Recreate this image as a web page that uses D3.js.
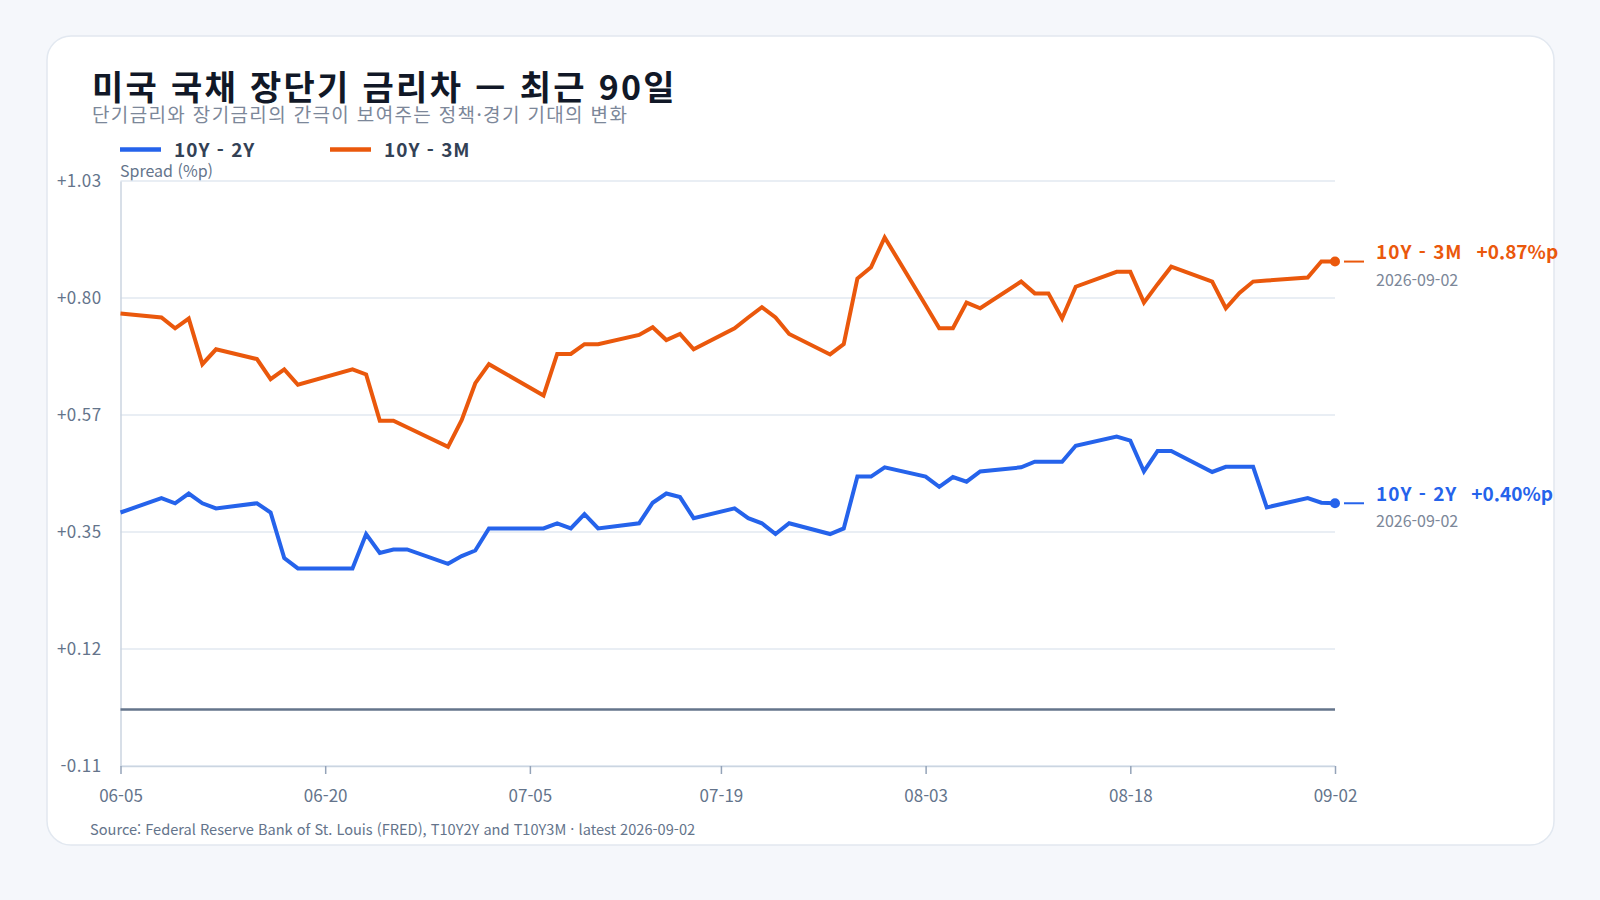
<!DOCTYPE html>
<html lang="ko">
<head>
<meta charset="UTF-8">
<title>미국 국채 장단기 금리차</title>
<script src="https://d3js.org/d3.v7.min.js"></script>
<style>
    body, html {
        margin: 0;
        background: #f5f7fb;
        overflow: hidden;
    }
    svg text {
        font-family: "Noto Sans CJK KR", "Noto Sans", sans-serif;
    }
</style>
</head>
<body>
<svg id="chart" width="1600" height="900"></svg>
<script>
    // 영업일 (FRED 일별)
    var dates = [
        "2026-06-05","2026-06-08","2026-06-09","2026-06-10","2026-06-11","2026-06-12","2026-06-15","2026-06-16","2026-06-17","2026-06-18",
        "2026-06-22","2026-06-23","2026-06-24","2026-06-25","2026-06-26","2026-06-29","2026-06-30",
        "2026-07-01","2026-07-02","2026-07-06","2026-07-07","2026-07-08","2026-07-09","2026-07-10","2026-07-13","2026-07-14","2026-07-15",
        "2026-07-16","2026-07-17","2026-07-20","2026-07-21","2026-07-22","2026-07-23","2026-07-24","2026-07-27","2026-07-28","2026-07-29",
        "2026-07-30","2026-07-31",
        "2026-08-03","2026-08-04","2026-08-05","2026-08-06","2026-08-07","2026-08-10","2026-08-11","2026-08-12","2026-08-13","2026-08-14",
        "2026-08-17","2026-08-18","2026-08-19","2026-08-20","2026-08-21","2026-08-24","2026-08-25","2026-08-26","2026-08-27","2026-08-28",
        "2026-08-31","2026-09-01","2026-09-02"
    ];

    // 10Y - 2Y (%p)
    var spread10y2y = [
        0.384, 0.412, 0.402, 0.421, 0.402, 0.392, 0.402, 0.384, 0.295, 0.275,
        0.275, 0.342, 0.305, 0.312, 0.312, 0.284, 0.299,
        0.310, 0.353, 0.353, 0.363, 0.353, 0.381, 0.353, 0.363, 0.403, 0.421,
        0.414, 0.373, 0.392, 0.373, 0.363, 0.342, 0.363, 0.342, 0.353, 0.454,
        0.454, 0.472,
        0.454, 0.434, 0.453, 0.444, 0.464, 0.472, 0.483, 0.483, 0.483, 0.514,
        0.532, 0.524, 0.464, 0.504, 0.504, 0.463, 0.473, 0.473, 0.473, 0.394,
        0.412, 0.403, 0.402
    ];

    // 10Y - 3M (%p)
    var spread10y3m = [
        0.772, 0.764, 0.743, 0.762, 0.673, 0.702, 0.683, 0.644, 0.663, 0.633,
        0.663, 0.653, 0.563, 0.563, 0.550, 0.512, 0.564,
        0.636, 0.673, 0.612, 0.693, 0.693, 0.712, 0.712, 0.730, 0.745, 0.720,
        0.732, 0.702, 0.743, 0.764, 0.784, 0.764, 0.732, 0.692, 0.712, 0.840,
        0.862, 0.920,
        0.788, 0.743, 0.743, 0.793, 0.782, 0.834, 0.811, 0.811, 0.762, 0.824,
        0.853, 0.853, 0.793, 0.829, 0.863, 0.834, 0.782, 0.812, 0.834, 0.836,
        0.842, 0.873, 0.873
    ];

    var seriesNames = ["10Y - 2Y", "10Y - 3M"];
    var seriesColors = ["#2563eb", "#ea580c"];

    // 축 눈금
    var xTickDates = ["2026-06-05", "2026-06-20", "2026-07-05", "2026-07-19", "2026-08-03", "2026-08-18", "2026-09-02"];
    var yTicks = [-0.11, 0.118, 0.346, 0.574, 0.802, 1.03];

    var parse = d3.utcParse("%Y-%m-%d");
    var fmtDay = d3.utcFormat("%m-%d");
    var fmtSigned = function (d) { return (d >= 0 ? "+" : "") + d.toFixed(2); };

    var series = [spread10y2y, spread10y3m].map(function (vals, i) {
        return {
            name: seriesNames[i],
            color: seriesColors[i],
            values: vals.map(function (v, j) { return { date: parse(dates[j]), value: v }; })
        };
    });

    var svg = d3.select("#chart");

    // 카드
    svg.append("rect")
        .attr("x", 47).attr("y", 36)
        .attr("width", 1507).attr("height", 809)
        .attr("rx", 24)
        .attr("fill", "#ffffff")
        .attr("stroke", "#e2e8f0")
        .attr("stroke-width", 1.5);

    var plot = { left: 120.5, right: 1335, top: 181, bottom: 766 };

    var x = d3.scaleUtc()
        .domain([parse(dates[0]), parse(dates[dates.length - 1])])
        .range([plot.left, plot.right]);

    var y = d3.scaleLinear()
        .domain([yTicks[0], yTicks[yTicks.length - 1]])
        .range([plot.bottom, plot.top]);

    // 제목
    svg.append("text")
        .attr("x", 92).attr("y", 100)
        .attr("font-size", 34).attr("font-weight", 700)
        .attr("letter-spacing", 2.3)
        .attr("fill", "#111827")
        .text("미국 국채 장단기 금리차 — 최근 90일");

    svg.append("text")
        .attr("x", 92).attr("y", 122)
        .attr("font-size", 19)
        .attr("letter-spacing", 1.35)
        .attr("fill", "#7c8799")
        .text("단기금리와 장기금리의 간극이 보여주는 정책·경기 기대의 변화");

    // 범례
    var legend = svg.append("g");
    var legendX = [120, 330];
    series.forEach(function (s, i) {
        legend.append("line")
            .attr("x1", legendX[i]).attr("x2", legendX[i] + 41)
            .attr("y1", 149.5).attr("y2", 149.5)
            .attr("stroke", s.color).attr("stroke-width", 4.5);
        legend.append("text")
            .attr("x", legendX[i] + 54).attr("y", 157)
            .attr("font-size", 19).attr("font-weight", 700)
            .attr("letter-spacing", 1)
            .attr("fill", "#334155")
            .text(s.name);
    });

    svg.append("text")
        .attr("x", 120).attr("y", 177)
        .attr("font-size", 16)
        .attr("fill", "#64748b")
        .text("Spread (%p)");

    // 그리드
    svg.append("g")
        .selectAll("line")
        .data(yTicks)
        .join("line")
        .attr("x1", plot.left).attr("x2", plot.right)
        .attr("y1", function (d) { return y(d); })
        .attr("y2", function (d) { return y(d); })
        .attr("stroke", "#e2e8f0")
        .attr("stroke-width", 1.5);

    // Y축
    var yAxis = svg.append("g")
        .attr("transform", "translate(" + plot.left + ",0)")
        .call(d3.axisLeft(y).tickValues(yTicks).tickFormat(fmtSigned).tickSize(0).tickPadding(19));
    yAxis.select(".domain").attr("stroke", "#cbd5e1").attr("stroke-width", 1.5);
    yAxis.selectAll("text")
        .attr("font-size", 17)
        .attr("letter-spacing", 0.4)
        .attr("fill", "#64748b");

    // X축
    var xAxis = svg.append("g")
        .attr("transform", "translate(0," + plot.bottom + ")")
        .call(d3.axisBottom(x).tickValues(xTickDates.map(parse)).tickFormat(fmtDay).tickSize(8).tickSizeOuter(0).tickPadding(16));
    xAxis.select(".domain").attr("stroke", "#cbd5e1").attr("stroke-width", 1.5);
    xAxis.selectAll(".tick line").attr("stroke", "#94a3b8").attr("stroke-width", 1.5);
    xAxis.selectAll("text")
        .attr("font-size", 17)
        .attr("fill", "#64748b");

    // 0 기준선
    svg.append("line")
        .attr("x1", plot.left).attr("x2", plot.right)
        .attr("y1", y(0)).attr("y2", y(0))
        .attr("stroke", "#64748b")
        .attr("stroke-width", 2.6);

    // 선
    var line = d3.line()
        .x(function (d) { return x(d.date); })
        .y(function (d) { return y(d.value); });

    svg.append("g")
        .selectAll("path")
        .data(series)
        .join("path")
        .attr("fill", "none")
        .attr("stroke", function (d) { return d.color; })
        .attr("stroke-width", 4)
        .attr("d", function (d) { return line(d.values); });

    // 끝점 라벨
    series.forEach(function (s) {
        var last = s.values[s.values.length - 1];
        var cx = x(last.date), cy = y(last.value);
        var g = svg.append("g");
        g.append("circle")
            .attr("cx", cx).attr("cy", cy).attr("r", 5)
            .attr("fill", s.color);
        g.append("line")
            .attr("x1", cx + 9).attr("x2", cx + 29)
            .attr("y1", cy).attr("y2", cy)
            .attr("stroke", s.color).attr("stroke-width", 2);
        var t = g.append("text")
            .attr("x", cx + 41).attr("y", cy - 2.5)
            .attr("font-size", 19).attr("font-weight", 700)
            .attr("fill", s.color);
        t.append("tspan").attr("letter-spacing", 1).text(s.name);
        t.append("tspan").attr("dx", 14).text(fmtSigned(last.value) + "%p");
        g.append("text")
            .attr("x", cx + 41).attr("y", cy + 24)
            .attr("font-size", 16)
            .attr("fill", "#7c8799")
            .text(dates[dates.length - 1]);
    });

    // 출처
    svg.append("text")
        .attr("x", 90).attr("y", 835)
        .attr("font-size", 14.6)
        .attr("fill", "#64748b")
        .text("Source: Federal Reserve Bank of St. Louis (FRED), T10Y2Y and T10Y3M · latest " + dates[dates.length - 1]);
</script>
</body>
</html>
